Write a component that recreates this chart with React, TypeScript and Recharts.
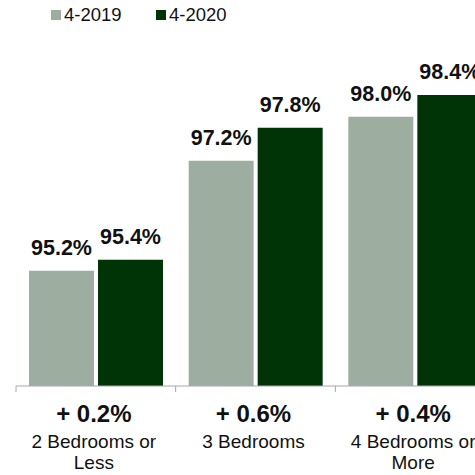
import React from "react";
import { Bar, BarChart, LabelList, XAxis, YAxis } from "recharts";

const categories = [["2 Bedrooms or", "Less"], ["3 Bedrooms"], ["4 Bedrooms or", "More"]];
const changes = ["+ 0.2%", "+ 0.6%", "+ 0.4%"];
const values2019 = [95.2, 97.2, 98.0];
const values2020 = [95.4, 97.8, 98.4];
const seriesNames = ["4-2019", "4-2020"];

const LIGHT = "#9daea0";
const DARK = "#003305";
const FONT = "'Liberation Sans', Arial, Helvetica, sans-serif";

const data = categories.map((lines, i) => ({
  name: lines.join(" "),
  lines,
  change: changes[i],
  y2019: values2019[i],
  y2020: values2020[i],
}));

// category label: bold change on top, name below, tick mark at the band's left edge
function CategoryTick(props: any) {
  const { x, y, payload } = props;
  const row = data[payload.index];
  const edge = x - (payload.offset ?? 0);
  return (
    <g>
      <line x1={edge} x2={edge} y1={y} y2={y + 6} stroke="#a6a6a6" />
      <text x={x - 2} y={y + 36} textAnchor="middle" fontSize={24} fontWeight="bold" fill="#111" fontFamily={FONT}>
        {row.change}
      </text>
      {row.lines.map((l: string, k: number) => (
        <text key={k} x={x - 2} y={y + 62 + k * 21} textAnchor="middle" fontSize={19} fill="#111" fontFamily={FONT}>
          {l}
        </text>
      ))}
    </g>
  );
}

function TopLegend() {
  const items = [
    { label: seriesNames[0], color: LIGHT, left: 51 },
    { label: seriesNames[1], color: DARK, left: 156 },
  ];
  return (
    <div style={{ position: "absolute", left: 0, top: 0, width: 475, height: 30, zIndex: 1 }}>
      {items.map((it) => (
        <div key={it.label} style={{ position: "absolute", left: it.left, top: 5, display: "flex", alignItems: "center", fontFamily: FONT, fontSize: 18.5, color: "#111", lineHeight: "20px" }}>
          <span style={{ display: "inline-block", width: 10, height: 10, background: it.color, marginRight: 3 }} />
          {it.label}
        </div>
      ))}
    </div>
  );
}

const labelStyle = { fontFamily: FONT, fontSize: 21.5, fontWeight: "bold", fill: "#111" };
const pct = (v: any) => `${Number(v).toFixed(1)}%`;

export default function App() {
  return (
    <div style={{ position: "fixed", left: 0, top: 0, width: 475, height: 475, overflow: "hidden", background: "#fff" }}>
      <TopLegend />
      <BarChart
        width={500}
        height={475}
        data={data}
        margin={{ top: 7, right: 5, left: 16, bottom: 0 }}
        barCategoryGap={13}
        barGap={4}
      >
        <XAxis
          dataKey="name"
          height={89}
          tickLine={false}
          tickSize={0}
          tickMargin={0}
          axisLine={{ stroke: "#a6a6a6" }}
          tick={<CategoryTick />}
          interval={0}
        />
        <YAxis hide domain={[93.1, 100]} allowDataOverflow />
        <Bar dataKey="y2019" name={seriesNames[0]} fill={LIGHT} isAnimationActive={false}>
          <LabelList dataKey="y2019" position="top" offset={16} formatter={pct} style={labelStyle} />
        </Bar>
        <Bar dataKey="y2020" name={seriesNames[1]} fill={DARK} isAnimationActive={false}>
          <LabelList dataKey="y2020" position="top" offset={16} formatter={pct} style={labelStyle} />
        </Bar>
      </BarChart>
    </div>
  );
}
